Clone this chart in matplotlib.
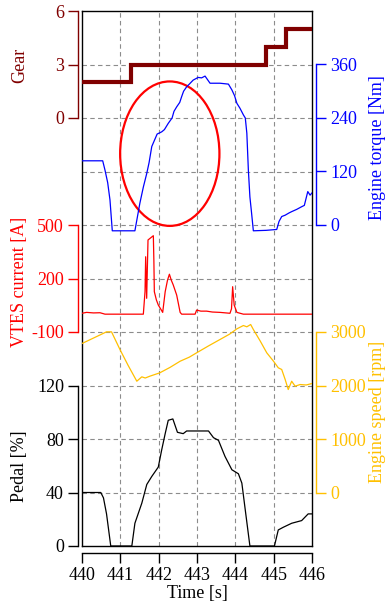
import matplotlib
matplotlib.use("Agg")
import matplotlib.pyplot as plt
from matplotlib.patches import Ellipse

# Data
gear_t = [440.0, 441.27, 444.80, 445.32, 446.0]
gear = [2, 3, 4, 5, 5]

torque_t = [440.0, 440.54, 440.60, 440.67, 440.73, 440.79, 441.10, 441.38, 441.51, 441.60,
            441.69, 441.75, 441.82, 441.90, 441.96, 442.08, 442.15, 442.25, 442.35, 442.40,
            442.47, 442.55, 442.60, 442.65, 442.73, 442.80, 442.90, 443.03, 443.12, 443.21,
            443.34, 443.60, 443.82, 443.91, 443.98, 444.04, 444.12, 444.21, 444.26, 444.30,
            444.34, 444.38, 444.42, 444.47, 444.80, 445.08, 445.14, 445.21, 445.30, 445.40,
            445.47, 445.60, 445.73, 445.80, 445.89, 445.95, 446.0]
torque = [144, 144, 123, 95, 56, -13, -13, -13, 49, 85,
          116, 140, 176, 192, 204, 209, 214, 228, 240, 255,
          265, 275, 288, 300, 310, 316, 325, 331, 330, 334,
          318, 318, 316, 303, 290, 273, 262, 247, 240, 206,
          123, 63, 30, -13, -12, -10, 8, 19, 22, 27,
          30, 35, 41, 44, 75, 67, 72]

vtes_t = [440.0, 440.12, 440.30, 440.47, 440.60, 441.60, 441.644, 441.661, 441.687, 441.722,
          441.774, 441.861, 441.875, 441.887, 441.94, 441.991, 442.05, 442.105, 442.17, 442.23,
          442.28, 442.33, 442.38, 442.47, 442.56, 442.60, 442.95, 442.99, 443.10, 443.25,
          443.40, 443.60, 443.86, 443.90, 443.93, 443.97, 444.04, 444.21, 446.0]
vtes = [5, 10, 7, 8, 0, 0, 126, 322, 89, 416,
        425, 440, 300, 126, 80, 51, 30, 10, 126, 190,
        224, 190, 164, 107, 10, 0, 0, 23, 17, 17,
        12, 10, 5, 30, 154, 51, 10, 0, 0]

speed_t = [440.0, 440.64, 440.77, 440.99, 441.20, 441.43, 441.56, 441.65, 441.77, 442.03,
           442.30, 442.56, 442.80, 442.99, 443.30, 443.60, 443.85, 444.04, 444.21, 444.30,
           444.40, 444.47, 444.65, 444.82, 445.00, 445.12, 445.21, 445.30, 445.38, 445.47,
           445.56, 445.69, 445.85, 446.0]
speed = [2785, 3003, 3003, 2673, 2380, 2080, 2162, 2140, 2174, 2237,
         2340, 2454, 2530, 2611, 2740, 2860, 2960, 3059, 3121, 3097,
         3140, 3047, 2830, 2611, 2450, 2331, 2299, 2112, 1925, 2080,
         1987, 2018, 2010, 2037]

pedal_t = [440.0, 440.49, 440.56, 440.64, 440.75, 441.30, 441.38, 441.56, 441.69, 441.82,
           441.99, 442.08, 442.17, 442.25, 442.37, 442.49, 442.64, 442.73, 443.03, 443.30,
           443.43, 443.56, 443.73, 443.91, 444.08, 444.17, 444.25, 444.38, 445.02, 445.12,
           445.25, 445.47, 445.73, 445.90, 446.0]
pedal = [40, 40, 36, 24, 0, 0, 17, 32, 46, 52,
         59, 72, 84, 94, 95, 85, 84, 86, 86, 86,
         81, 79, 67, 57, 54, 47, 29, 0, 0, 12,
         14, 17, 19, 24, 24]

# highlighted region (torque axis units)
ell_center = (442.29, 160)
ell_width = 2.59
ell_height = 324

plt.rcParams["font.family"] = ["Liberation Serif", "DejaVu Serif"]
plt.rcParams["font.size"] = 13
plt.rcParams["axes.unicode_minus"] = False

MAROON = "#800000"
BLUE = "#0000ff"
RED = "#ff0000"
AMBER = "#ffc000"

fig = plt.figure(figsize=(3.92, 6.08), dpi=100)
RECT = [82 / 392, 62 / 608, 230 / 392, 535 / 608]

# frame + grid
base = fig.add_axes(RECT, label="base")
base.set_xlim(440, 446)
base.set_ylim(0, 10)
base.set_xticks(range(441, 446))
base.set_yticks(range(1, 10))
base.tick_params(length=0, labelbottom=False, labelleft=False)
base.grid(True, color="#8c8c8c", ls=(0, (4, 3)), lw=0.8)
for s in base.spines.values():
    s.set_linewidth(1.0)


def make_axis(name, side, ylim, bounds, ticks, color, label, label_xy):
    ax = fig.add_axes(RECT, label=name)
    ax.patch.set_visible(False)
    ax.set_xlim(440, 446)
    ax.set_ylim(ylim)
    for s in ax.spines.values():
        s.set_visible(False)
    sp = ax.spines[side]
    sp.set_visible(True)
    sp.set_position(("outward", 3))
    sp.set_bounds(*bounds)
    sp.set_color(color)
    sp.set_linewidth(1.0)
    ax.yaxis.set_ticks_position(side)
    ax.yaxis.set_label_position(side)
    ax.set_yticks(ticks)
    ax.tick_params(axis="y", colors=color, length=7, width=1.0, pad=3)
    ax.tick_params(axis="x", bottom=False, labelbottom=False)
    ax.set_ylabel(label, color=color, va="center")
    ax.yaxis.set_label_coords(*label_xy)
    return ax


ax_gear = make_axis("gear", "left", (-24, 6), (0, 6), [0, 3, 6], MAROON, "Gear", (-0.27, 0.899))
ax_tq = make_axis("torque", "right", (-720, 480), (0, 360), [0, 120, 240, 360], BLUE,
                  "Engine torque [Nm]", (1.283, 0.745))
ax_v = make_axis("vtes", "left", (-1300, 1700), (-100, 500), [-100, 200, 500], RED,
                 "VTES current [A]", (-0.27, 0.493))
ax_sp = make_axis("speed", "right", (-1000, 9000), (0, 3000), [0, 1000, 2000, 3000], AMBER,
                  "Engine speed [rpm]", (1.283, 0.25))
ax_p = make_axis("pedal", "left", (0, 400), (0, 120), [0, 40, 80, 120], "black",
                 "Pedal [%]", (-0.27, 0.15))

# x axis lives on the pedal axes, pushed slightly below the frame
bot = ax_p.spines["bottom"]
bot.set_visible(True)
bot.set_position(("outward", 5))
bot.set_linewidth(1.0)
ax_p.set_xticks(range(440, 447))
ax_p.tick_params(axis="x", bottom=True, labelbottom=True, length=7, width=1.0, pad=3)
ax_p.set_xlabel("Time [s]", labelpad=1)

ax_gear.plot(gear_t, gear, drawstyle="steps-post", color=MAROON, lw=3.0, solid_joinstyle="miter")
ax_tq.plot(torque_t, torque, color=BLUE, lw=0.9)
ax_v.plot(vtes_t, vtes, color=RED, lw=0.9)
ax_sp.plot(speed_t, speed, color=AMBER, lw=0.9)
ax_p.plot(pedal_t, pedal, color="black", lw=0.9)

ax_tq.add_patch(Ellipse(ell_center, ell_width, ell_height, fill=False, edgecolor=RED, lw=1.6))

fig.savefig("out.png", dpi=100)
